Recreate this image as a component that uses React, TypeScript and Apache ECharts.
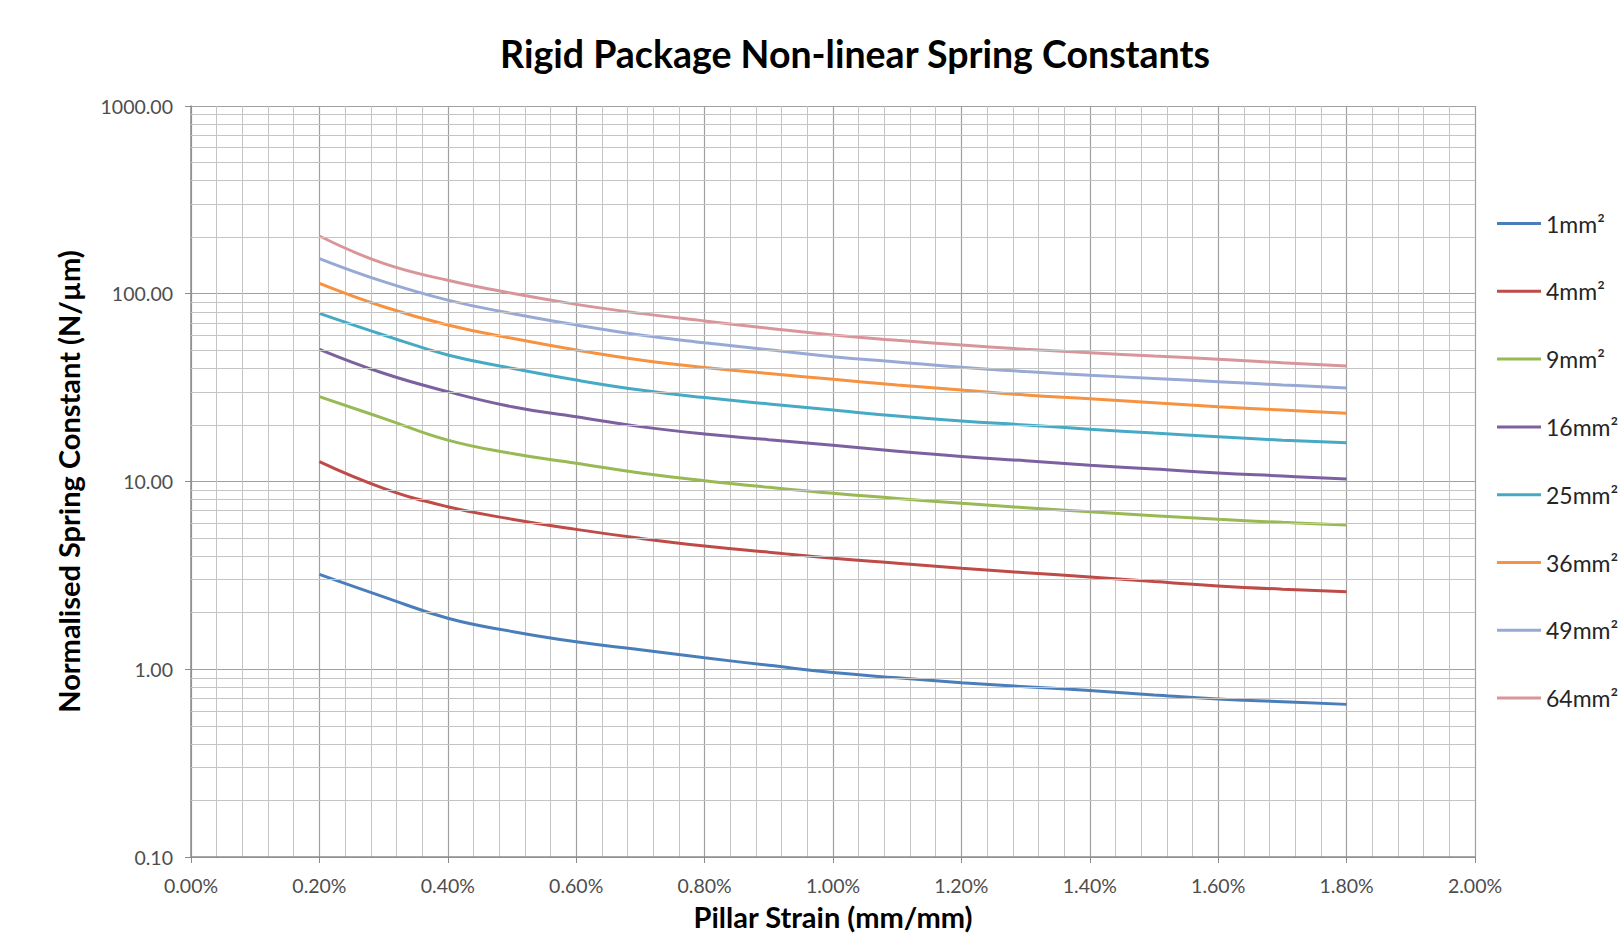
import React, { useEffect, useRef } from "react";
import * as echarts from "echarts";

const strains = [0.2, 0.3, 0.4, 0.5, 0.6, 0.7, 0.8, 0.9, 1.0, 1.1, 1.2, 1.3, 1.4, 1.5, 1.6, 1.7, 1.8];

const s1 = [3.2, 2.43, 1.87, 1.59, 1.4, 1.27, 1.15, 1.05, 0.96, 0.9, 0.848, 0.807, 0.77, 0.73, 0.695, 0.672, 0.65];
const s4 = [12.75, 9.2, 7.34, 6.3, 5.56, 4.98, 4.53, 4.2, 3.9, 3.67, 3.45, 3.27, 3.1, 2.93, 2.78, 2.67, 2.59];
const s9 = [28.3, 21.7, 16.6, 14.1, 12.5, 11.1, 10.1, 9.31, 8.65, 8.13, 7.65, 7.25, 6.9, 6.58, 6.29, 6.06, 5.87];
const s16 = [50.6, 37.7, 30.1, 25.0, 22.1, 19.6, 17.9, 16.7, 15.6, 14.5, 13.6, 12.9, 12.2, 11.65, 11.1, 10.7, 10.3];
const s25 = [78.6, 60.3, 47.2, 40.1, 34.7, 30.7, 28.0, 25.9, 24.0, 22.3, 21.0, 20.0, 19.0, 18.1, 17.3, 16.6, 16.1];
const s36 = [113.6, 85.3, 68.2, 57.9, 50.2, 44.4, 40.5, 37.6, 35.0, 32.7, 30.7, 28.9, 27.6, 26.3, 25.0, 24.0, 23.1];
const s49 = [154, 116, 92.5, 78.5, 68.2, 60.3, 54.8, 50.3, 46.2, 43.3, 40.6, 38.5, 36.8, 35.4, 34.0, 32.7, 31.5];
const s64 = [203, 145, 118, 100.5, 87.8, 78.6, 71.6, 65.5, 60.3, 56.5, 53.3, 50.6, 48.5, 46.6, 44.8, 42.9, 41.2];

const seriesNames = ["1mm²", "4mm²", "9mm²", "16mm²", "25mm²", "36mm²", "49mm²", "64mm²"];
const seriesValues = [s1, s4, s9, s16, s25, s36, s49, s64];
const seriesColors = ["#4A7EBB", "#BE4B48", "#98B954", "#7D60A0", "#46AAC5", "#F69240", "#97A9D4", "#D9969A"];

const decades = [0.1, 1, 10, 100];
const minorMultipliers = [2, 3, 4, 5, 6, 7, 8, 9];

const FONT = "Lato";

export default function App() {
  const ref = useRef<HTMLDivElement>(null);

  useEffect(() => {
    if (!ref.current) return;
    const chart = echarts.init(ref.current, undefined, { renderer: "svg" });

    const minorLines: any[] = [];
    decades.forEach((d) => {
      minorMultipliers.forEach((m) => {
        minorLines.push({ yAxis: +(d * m).toPrecision(6) });
      });
    });

    const series: any[] = [
      {
        name: "__grid",
        type: "line",
        data: [[2, 1]],
        symbol: "none",
        lineStyle: { opacity: 0 },
        silent: true,
        z: 0,
        markLine: {
          silent: true,
          symbol: ["none", "none"],
          label: { show: false },
          lineStyle: { color: "#c4c4c4", width: 1, type: "solid" },
          data: minorLines,
          animation: false,
        },
      },
    ];

    seriesNames.forEach((name, i) => {
      series.push({
        name,
        type: "line",
        data: strains.map((x, j) => [x, seriesValues[i][j]]),
        symbol: "none",
        smooth: 0.45,
        lineStyle: { color: seriesColors[i], width: 3 },
        itemStyle: { color: seriesColors[i] },
        z: 3,
      });
    });

    chart.setOption({
      animation: false,
      backgroundColor: "#ffffff",
      textStyle: { fontFamily: FONT },
      graphic: [
        {
          type: "text",
          x: 855,
          y: 53,
          style: {
            text: "Rigid Package Non-linear Spring Constants",
            fontFamily: FONT,
            fontWeight: "bold",
            fontSize: 37.5,
            fill: "#000000",
            textAlign: "center",
            textVerticalAlign: "middle",
          },
        },
      ],
      grid: {
        left: 191,
        right: 148,
        top: 106,
        bottom: 77,
        containLabel: false,
        outerBoundsMode: "none",
      },
      legend: {
        data: seriesNames,
        orient: "vertical",
        left: 1492,
        top: 207,
        itemWidth: 44,
        itemHeight: 3,
        itemGap: 44.8,
        icon: "path://M0,0H44V3H0Z",
        textStyle: { fontFamily: FONT, fontSize: 23, color: "#262626" },
      },
      xAxis: {
        type: "value",
        min: 0,
        max: 2,
        interval: 0.2,
        name: "Pillar Strain (mm/mm)",
        nameLocation: "middle",
        nameGap: 45,
        nameTextStyle: { fontFamily: FONT, fontWeight: "bold", fontSize: 29, color: "#000000", verticalAlign: "top" },
        axisLine: { show: true, onZero: false, lineStyle: { color: "#8c8c8c", width: 1.5 } },
        axisTick: { show: true, length: 6, lineStyle: { color: "#8c8c8c" } },
        axisLabel: {
          formatter: (v: number) => v.toFixed(2) + "%",
          fontFamily: FONT,
          fontSize: 19.5,
          color: "#4d4d4d",
          margin: 18,
        },
        splitLine: { show: true, lineStyle: { color: "#a0a0a0", width: 1.2 } },
        minorTick: { show: false, splitNumber: 5 },
        minorSplitLine: { show: true, lineStyle: { color: "#c4c4c4", width: 1 } },
      },
      yAxis: {
        type: "log",
        logBase: 10,
        min: 0.1,
        max: 1000,
        name: "Normalised Spring Constant (N/µm)",
        nameLocation: "middle",
        nameGap: 108,
        nameRotate: 90,
        nameTextStyle: { fontFamily: FONT, fontWeight: "bold", fontSize: 29, color: "#000000" },
        axisLine: { show: true, lineStyle: { color: "#8c8c8c", width: 1.5 } },
        axisTick: { show: true, length: 6, lineStyle: { color: "#8c8c8c" } },
        axisLabel: {
          formatter: (v: number) => v.toFixed(2),
          fontFamily: FONT,
          fontSize: 19.5,
          color: "#4d4d4d",
          margin: 18,
        },
        splitLine: { show: true, lineStyle: { color: "#a0a0a0", width: 1.2 } },
        minorSplitLine: { show: false },
      },
      series,
    });

    return () => chart.dispose();
  }, []);

  return (
    <div
      ref={ref}
      style={{ position: "absolute", left: 0, top: 0, width: 1623, height: 934, background: "#fff" }}
    />
  );
}
